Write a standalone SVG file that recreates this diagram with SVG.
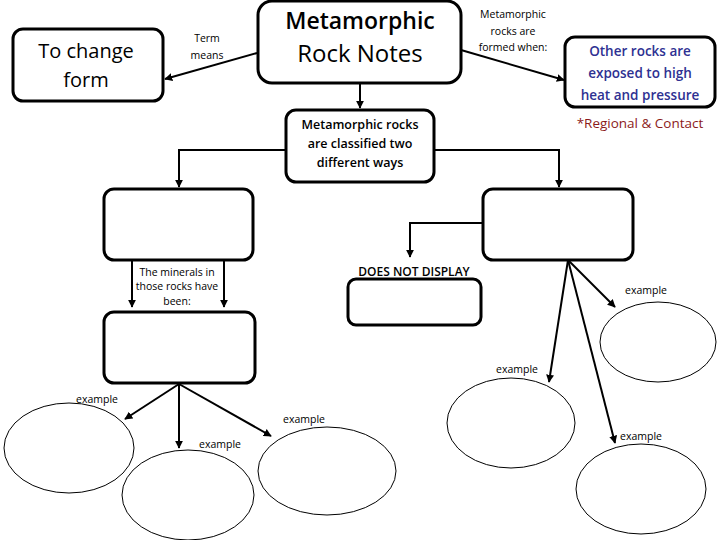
<svg xmlns="http://www.w3.org/2000/svg" width="720" height="540" viewBox="0 0 720 540">
<defs>
<marker id="ah" viewBox="0 0 10 10" refX="9" refY="5" markerWidth="4" markerHeight="4" orient="auto"><path d="M0,0 L10,5 L0,10 z" fill="#000"/></marker>
<style>
.box{fill:#fff;stroke:#000;stroke-width:3}
.ell{fill:#fff;stroke:#000;stroke-width:1}
.c{fill:none;stroke:#000;stroke-width:2;marker-end:url(#ah)}
text{font-family:"Open Sans","Liberation Sans",sans-serif;text-anchor:middle;fill:#000}
.s{font-size:10.5px}
.b{font-weight:600}
</style>
</defs>
<rect width="720" height="540" fill="#fff"/>
<g id="connectors">
<line class="c" x1="257" y1="53" x2="165" y2="79"/>
<line class="c" x1="461" y1="50" x2="564" y2="80"/>
<line class="c" x1="360" y1="83" x2="360" y2="108"/>
<polyline class="c" points="286,150 179,150 179,187"/>
<polyline class="c" points="434,150 559,150 559,187"/>
<polyline class="c" points="483,223 410,223 410,257"/>
<line class="c" x1="132" y1="260" x2="132" y2="307"/>
<line class="c" x1="224" y1="260" x2="224" y2="307"/>
<line class="c" x1="179" y1="384" x2="125" y2="419"/>
<line class="c" x1="179" y1="384" x2="179" y2="448"/>
<line class="c" x1="179" y1="384" x2="271" y2="436"/>
<line class="c" x1="568" y1="260" x2="615" y2="307"/>
<line class="c" x1="568" y1="260" x2="549" y2="382"/>
<line class="c" x1="568" y1="260" x2="615" y2="443"/>
</g>
<g id="title"><rect class="box" x="258" y="1" width="203" height="82" rx="14"/>
<text x="360" y="29" font-size="23" class="b">Metamorphic</text>
<text x="360" y="62" font-size="24">Rock Notes</text></g>
<g id="change"><rect class="box" x="13" y="29" width="150" height="72" rx="10"/>
<text x="86" y="58" font-size="20">To change</text>
<text x="86" y="87" font-size="20">form</text></g>
<g id="term"><text class="s" x="207" y="42">Term</text><text class="s" x="207" y="59">means</text></g>
<g id="formed"><text class="s" x="513" y="18">Metamorphic</text><text class="s" x="513" y="35">rocks are</text><text class="s" x="513" y="51">formed when:</text></g>
<g id="other"><rect class="box" x="565" y="37" width="150" height="70" rx="10"/>
<text x="640" y="56" font-size="13.5" class="b" style="fill:#2e3192">Other rocks are</text>
<text x="640" y="78" font-size="13.5" class="b" style="fill:#2e3192">exposed to high</text>
<text x="640" y="100" font-size="13.5" class="b" style="fill:#2e3192">heat and pressure</text></g>
<g id="regional"><text x="640" y="128" font-size="13.5" style="fill:#8b1a1a">*Regional &amp; Contact</text></g>
<g id="classified"><rect class="box" x="286" y="110" width="148" height="72" rx="10"/>
<text x="360" y="129" font-size="12.5" class="b">Metamorphic rocks</text>
<text x="360" y="148" font-size="12.5" class="b">are classified two</text>
<text x="360" y="167" font-size="12.5" class="b">different ways</text></g>
<g id="boxA"><rect class="box" x="104" y="189" width="149" height="71" rx="10"/></g>
<g id="boxB"><rect class="box" x="483" y="189" width="150" height="71" rx="10"/></g>
<g id="minerals"><text class="s" x="177" y="276">The minerals in</text><text class="s" x="177" y="290">those rocks have</text><text class="s" x="177" y="305">been:</text></g>
<g id="boxC"><rect class="box" x="104" y="312" width="151" height="71" rx="10"/></g>
<g id="dnd"><text x="414" y="276" font-size="12" class="b">DOES NOT DISPLAY</text>
<rect class="box" x="348" y="279" width="133" height="46" rx="8"/></g>
<g id="e1"><ellipse class="ell" cx="69" cy="448" rx="65" ry="45"/><text class="s" x="97" y="403">example</text></g>
<g id="e2"><ellipse class="ell" cx="188" cy="495" rx="66" ry="45"/><text class="s" x="220" y="448">example</text></g>
<g id="e3"><ellipse class="ell" cx="327" cy="471" rx="69" ry="44"/><text class="s" x="304" y="423">example</text></g>
<g id="e4"><ellipse class="ell" cx="511" cy="423" rx="64" ry="45"/><text class="s" x="517" y="373">example</text></g>
<g id="e5"><ellipse class="ell" cx="658" cy="342" rx="58" ry="40"/><text class="s" x="646" y="294">example</text></g>
<g id="e6"><ellipse class="ell" cx="641" cy="489" rx="65" ry="45"/><text class="s" x="641" y="440">example</text></g>
</svg>
